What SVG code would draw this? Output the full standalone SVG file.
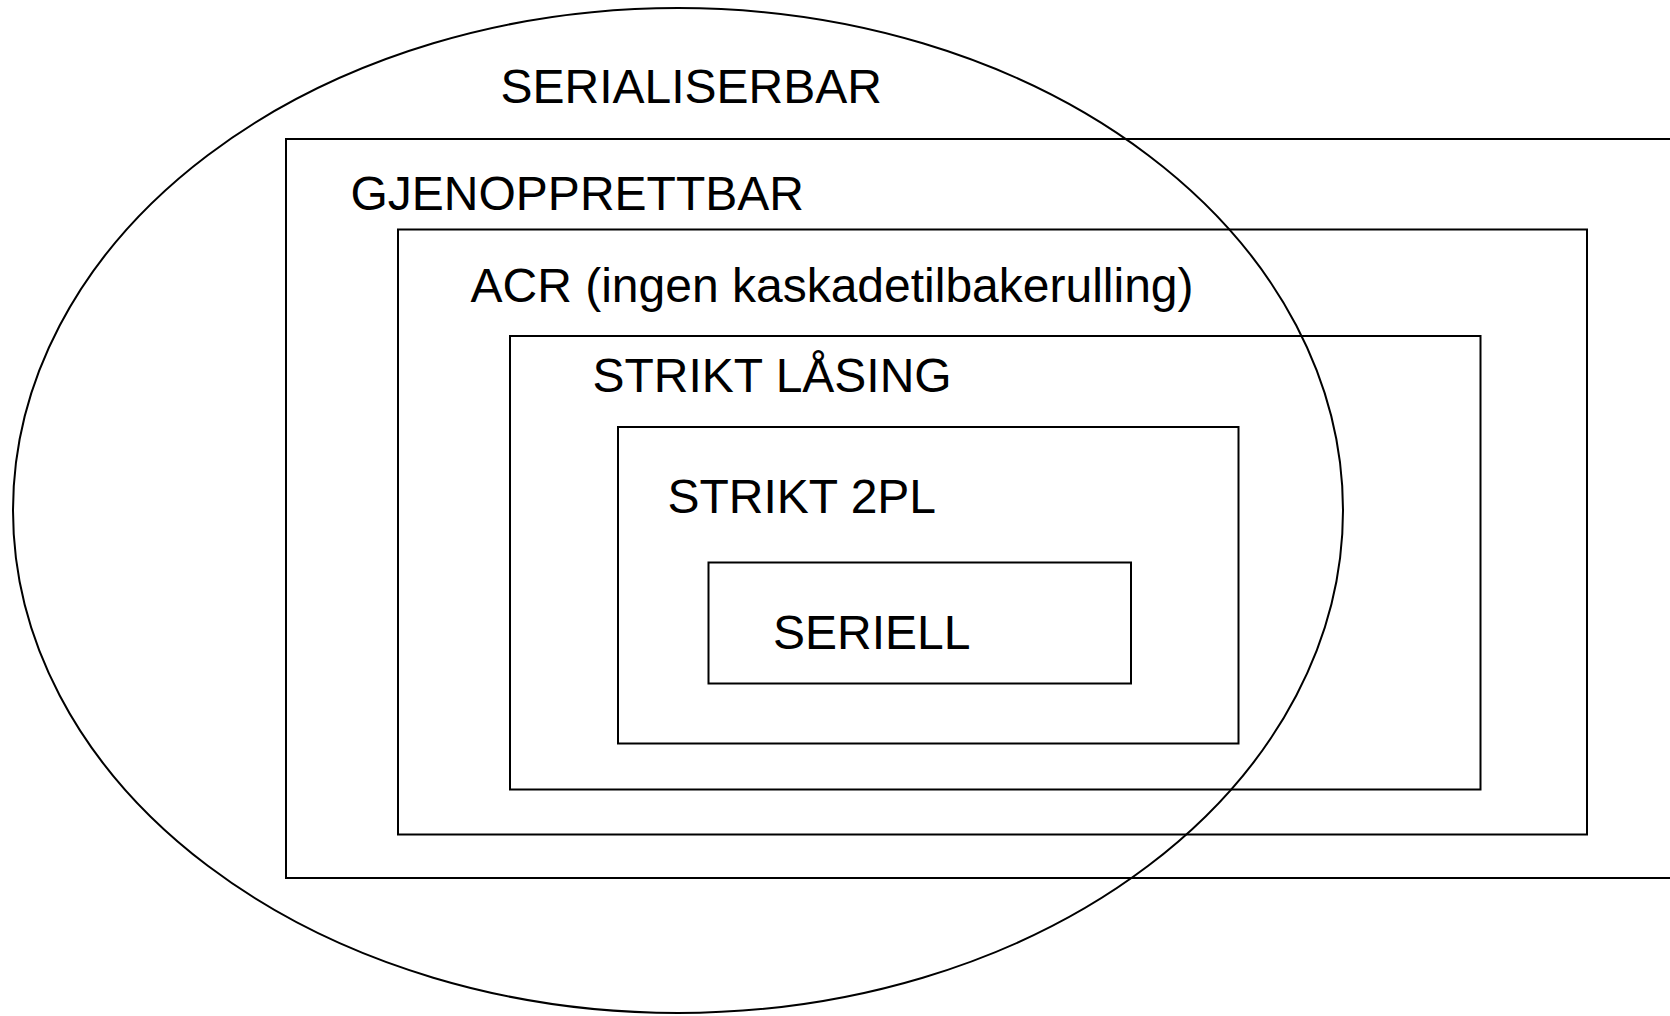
<svg xmlns="http://www.w3.org/2000/svg" width="1670" height="1016" viewBox="0 0 1670 1016">
  <style>
    .frame { fill: none; stroke: #000; stroke-width: 2; }
    .label { font-family: "Liberation Sans", Arial, sans-serif; font-size: 48px; fill: #000; }
  </style>
  <rect x="0" y="0" width="1670" height="1016" fill="#fff"/>

  <!-- Nested schedule classes -->
  <g id="gjenopprettbar">
    <rect class="frame" x="286" y="139" width="1400" height="739"/>
    <text class="label" x="350.5" y="210">GJENOPPRETTBAR</text>
  </g>
  <g id="acr">
    <rect class="frame" x="398" y="229.5" width="1189" height="605"/>
    <text class="label" x="470.5" y="302">ACR (ingen kaskadetilbakerulling)</text>
  </g>
  <g id="strikt-laasing">
    <rect class="frame" x="510" y="336" width="970.5" height="453.5"/>
    <text class="label" x="592.5" y="392">STRIKT LÅSING</text>
  </g>
  <g id="strikt-2pl">
    <rect class="frame" x="618" y="427" width="620.5" height="316.5"/>
    <text class="label" x="667.5" y="513">STRIKT 2PL</text>
  </g>
  <g id="seriell">
    <rect class="frame" x="708.5" y="562.5" width="422.5" height="121"/>
    <text class="label" x="773" y="648.5">SERIELL</text>
  </g>

  <!-- Serialisable schedules, overlapping the nested classes -->
  <g id="serialiserbar">
    <ellipse class="frame" cx="678" cy="510.5" rx="665" ry="502.5"/>
    <text class="label" x="500.5" y="103">SERIALISERBAR</text>
  </g>

  <g id="connectors"></g>
</svg>
